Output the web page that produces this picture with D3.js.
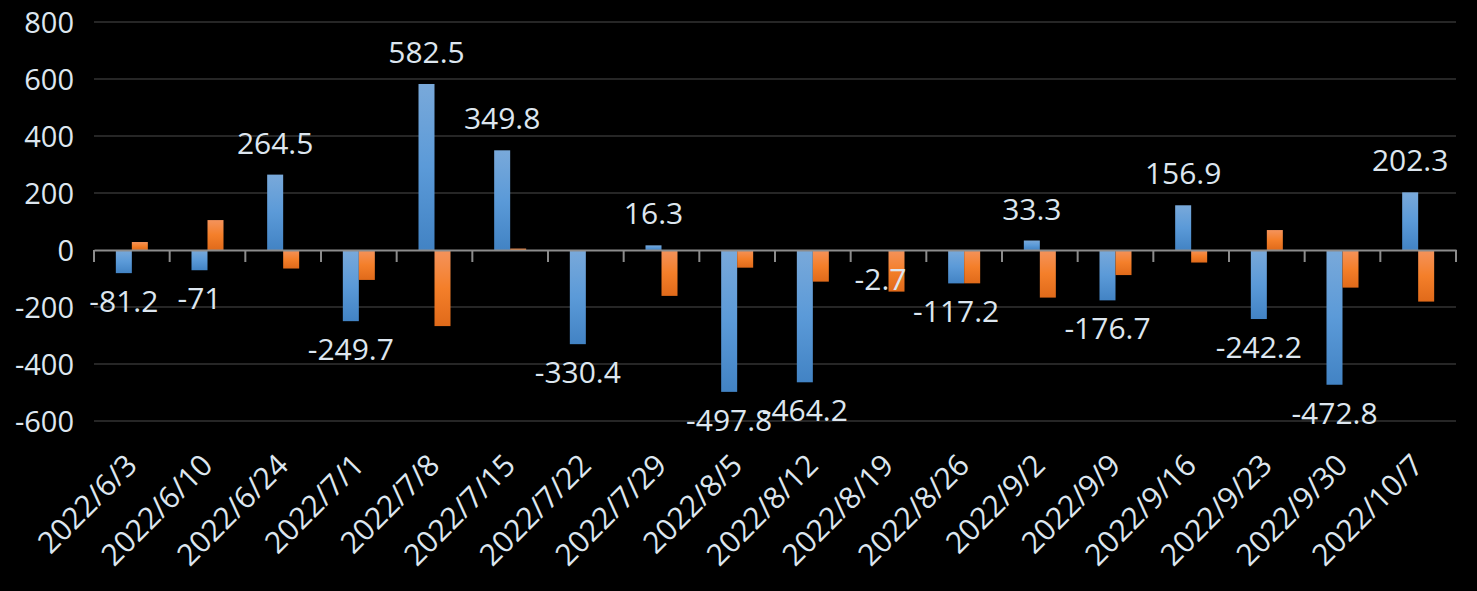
<!DOCTYPE html>
<html>
<head>
<meta charset="utf-8">
<script src="https://cdn.jsdelivr.net/npm/d3@7"></script>
<style>
  html, body { margin: 0; padding: 0; background: #000; }
  svg { display: block; }
</style>
</head>
<body>
<svg id="chart" width="1477" height="591"></svg>
<script>
const categories = ["2022/6/3","2022/6/10","2022/6/24","2022/7/1","2022/7/8","2022/7/15","2022/7/22","2022/7/29","2022/8/5","2022/8/12","2022/8/19","2022/8/26","2022/9/2","2022/9/9","2022/9/16","2022/9/23","2022/9/30","2022/10/7"];
const seriesA = [-81.2, -71, 264.5, -249.7, 582.5, 349.8, -330.4, 16.3, -497.8, -464.2, -2.7, -117.2, 33.3, -176.7, 156.9, -242.2, -472.8, 202.3];
const seriesB = [28, 105, -65, -105, -267, 5, 0, -161, -62, -111, -146, -117, -167, -88, -44, 70, -132, -181];
const yTicks = [-600, -400, -200, 0, 200, 400, 600, 800];

(function () {
const svg = d3.select("#chart");
const W = 1477, H = 591;
svg.append("rect").attr("width", W).attr("height", H).attr("fill", "#000");

const pLeft = 94, pRight = 1456, pTop = 22, pBottom = 421;
const x = d3.scaleBand().domain(categories).range([pLeft, pRight]).padding(0);
const y = d3.scaleLinear().domain([-600, 800]).range([pBottom, pTop]);

const textColor = "#dde6ef";
const font = "'Open Sans', 'Noto Sans', sans-serif";

const defs = svg.append("defs");
const gb = defs.append("linearGradient").attr("id", "gBlue").attr("x1", 0).attr("y1", 0).attr("x2", 0).attr("y2", 1);
gb.append("stop").attr("offset", "0%").attr("stop-color", "#79a9da");
gb.append("stop").attr("offset", "50%").attr("stop-color", "#5b9ad8");
gb.append("stop").attr("offset", "100%").attr("stop-color", "#4283c4");
const go = defs.append("linearGradient").attr("id", "gOrange").attr("x1", 0).attr("y1", 0).attr("x2", 0).attr("y2", 1);
go.append("stop").attr("offset", "0%").attr("stop-color", "#f4935c");
go.append("stop").attr("offset", "50%").attr("stop-color", "#f47f2a");
go.append("stop").attr("offset", "100%").attr("stop-color", "#e06a1a");

// gridlines
svg.append("g").selectAll("line")
  .data(yTicks.filter(t => t !== 0))
  .join("line")
  .attr("x1", pLeft).attr("x2", pRight)
  .attr("y1", d => y(d)).attr("y2", d => y(d))
  .attr("stroke", "#262626").attr("stroke-width", 2);

// y axis labels
const yAxis = d3.axisLeft(y).tickValues(yTicks).tickSize(0).tickPadding(20).tickFormat(d => String(d));
const yg = svg.append("g").attr("transform", `translate(${pLeft},0)`).call(yAxis);
yg.select(".domain").remove();
yg.selectAll("text").attr("fill", textColor).attr("font-family", font).attr("font-size", 29).attr("dy", "0.35em");

const bw = 16;
const cx = d => x(d) + x.bandwidth() / 2;

// bars
svg.append("g").selectAll("rect")
  .data(categories.map((c, i) => ({c, v: seriesA[i]})))
  .join("rect")
  .attr("x", d => cx(d.c) - bw)
  .attr("width", bw)
  .attr("y", d => y(Math.max(0, d.v)))
  .attr("height", d => Math.abs(y(d.v) - y(0)))
  .attr("fill", "url(#gBlue)");

svg.append("g").selectAll("rect")
  .data(categories.map((c, i) => ({c, v: seriesB[i]})))
  .join("rect")
  .attr("x", d => cx(d.c))
  .attr("width", bw)
  .attr("y", d => y(Math.max(0, d.v)))
  .attr("height", d => Math.abs(y(d.v) - y(0)))
  .attr("fill", "url(#gOrange)");

// zero axis + ticks
const xAxis = d3.axisBottom(x).tickSize(0).tickFormat("");
const xg = svg.append("g").attr("transform", `translate(0,${y(0)})`).call(xAxis);
xg.select(".domain").attr("stroke", "#8c8c8c").attr("stroke-width", 2);
const bounds = categories.map(c => x(c)).concat([pRight]);
svg.append("g").selectAll("line").data(bounds).join("line")
  .attr("x1", d => d).attr("x2", d => d)
  .attr("y1", y(0)).attr("y2", y(0) + 12)
  .attr("stroke", "#8c8c8c").attr("stroke-width", 2);

// category labels
svg.append("g").selectAll("text").data(categories).join("text")
  .attr("transform", d => `translate(${cx(d) + 7},467) rotate(-45)`)
  .attr("text-anchor", "end")
  .attr("fill", textColor).attr("font-family", font).attr("font-size", 30)
  .text(d => d);

// data labels
svg.append("g").selectAll("text")
  .data(categories.map((c, i) => ({c, v: seriesA[i]})))
  .join("text")
  .attr("x", d => cx(d.c) - bw / 2)
  .attr("y", d => d.v >= 0 ? y(d.v) - 21 : y(d.v) + 39)
  .attr("text-anchor", "middle")
  .attr("fill", textColor).attr("font-family", font).attr("font-size", 30)
  .text(d => String(d.v));
})();
</script>
</body>
</html>
